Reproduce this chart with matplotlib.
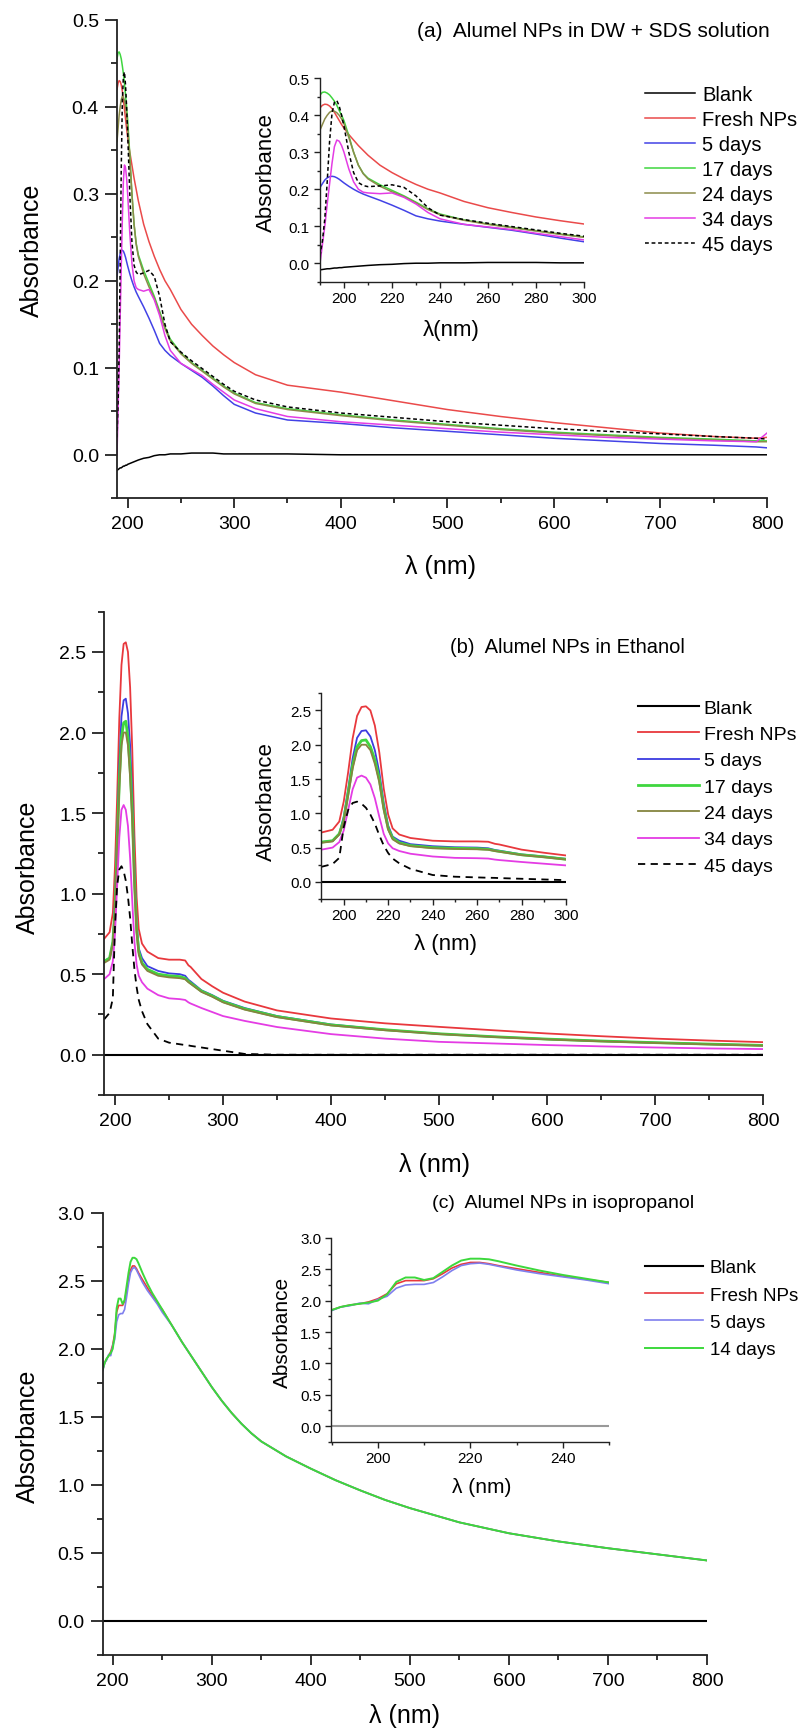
import matplotlib
matplotlib.use('Agg')
import matplotlib.pyplot as plt
from matplotlib.ticker import MultipleLocator

plt.rcParams['font.family'] = ['Liberation Sans', 'DejaVu Sans']

# ---------------- panel (a): DW + SDS ----------------
wl_a = [190, 191, 192, 193, 194, 195, 196, 197, 198, 199, 200, 202, 204, 206, 208, 210,
        215, 220, 225, 230, 235, 240, 250, 260, 270, 280, 290, 300, 320, 350,
        400, 450, 500, 550, 600, 650, 700, 750, 790, 800]
blank_a = [-0.018, -0.017, -0.016, -0.015, -0.015, -0.014, -0.013, -0.013, -0.012, -0.012,
           -0.011, -0.010, -0.009, -0.008, -0.007, -0.006, -0.004, -0.003, -0.001, 0.000,
           0.000, 0.001, 0.001, 0.002, 0.002, 0.002, 0.001, 0.001, 0.001, 0.001,
           0.000, 0.000, 0.000, 0.000, 0.000, 0.000, 0.000, 0.000, 0.000, 0.000]
fresh_a = [0.420, 0.427, 0.430, 0.429, 0.425, 0.418, 0.408, 0.397, 0.386, 0.375,
           0.365, 0.348, 0.333, 0.318, 0.305, 0.292, 0.265, 0.245, 0.228, 0.213,
           0.200, 0.190, 0.167, 0.150, 0.137, 0.125, 0.115, 0.106, 0.092, 0.080,
           0.072, 0.062, 0.052, 0.044, 0.037, 0.031, 0.025, 0.021, 0.019, 0.020]
d5_a = [0.205, 0.215, 0.225, 0.231, 0.234, 0.235, 0.234, 0.231, 0.227, 0.222,
        0.217, 0.208, 0.200, 0.193, 0.187, 0.182, 0.170, 0.157, 0.143, 0.128,
        0.120, 0.114, 0.105, 0.097, 0.089, 0.079, 0.068, 0.058, 0.048, 0.040,
        0.036, 0.031, 0.027, 0.023, 0.019, 0.016, 0.013, 0.011, 0.009, 0.008]
d17_a = [0.455, 0.462, 0.463, 0.460, 0.455, 0.447, 0.438, 0.427, 0.413, 0.400,
         0.385, 0.345, 0.300, 0.265, 0.243, 0.230, 0.212, 0.197, 0.182, 0.165,
         0.147, 0.133, 0.117, 0.106, 0.097, 0.088, 0.079, 0.071, 0.060, 0.053,
         0.046, 0.040, 0.035, 0.030, 0.026, 0.023, 0.020, 0.018, 0.016, 0.016]
d24_a = [0.360, 0.375, 0.390, 0.400, 0.408, 0.412, 0.411, 0.407, 0.400, 0.390,
         0.377, 0.340, 0.300, 0.265, 0.242, 0.228, 0.208, 0.193, 0.180, 0.163,
         0.145, 0.131, 0.116, 0.105, 0.096, 0.087, 0.078, 0.070, 0.059, 0.052,
         0.045, 0.039, 0.034, 0.029, 0.025, 0.022, 0.019, 0.017, 0.015, 0.015]
d34_a = [0.000, 0.050, 0.100, 0.160, 0.215, 0.270, 0.315, 0.333, 0.330, 0.318,
         0.300, 0.255, 0.220, 0.200, 0.192, 0.190, 0.188, 0.190, 0.178, 0.160,
         0.137, 0.120, 0.105, 0.098, 0.091, 0.081, 0.072, 0.063, 0.053, 0.044,
         0.038, 0.034, 0.030, 0.026, 0.023, 0.020, 0.018, 0.016, 0.015, 0.025]
d45_a = [0.020, 0.060, 0.120, 0.220, 0.330, 0.405, 0.435, 0.440, 0.425, 0.400,
         0.370, 0.300, 0.245, 0.218, 0.210, 0.207, 0.209, 0.212, 0.205, 0.182,
         0.150, 0.130, 0.118, 0.108, 0.099, 0.090, 0.081, 0.073, 0.063, 0.055,
         0.048, 0.043, 0.038, 0.034, 0.030, 0.027, 0.024, 0.021, 0.019, 0.018]

# ---------------- panel (b): ethanol ----------------
wl_b = [190, 195, 198, 200, 202, 204, 206, 208, 210, 212, 214, 216, 218, 220, 222, 225,
        230, 240, 250, 260, 265, 268, 270, 280, 290, 300, 320, 350, 400, 450,
        500, 550, 600, 650, 700, 750, 800]
blank_b = [0.0] * len(wl_b)
fresh_b = [0.72, 0.76, 0.88, 1.17, 1.60, 2.09, 2.42, 2.55, 2.56, 2.50, 2.28, 1.89, 1.36,
           0.98, 0.78, 0.69, 0.64, 0.60, 0.59, 0.59, 0.585, 0.555, 0.545, 0.47, 0.425,
           0.385, 0.33, 0.275, 0.225, 0.195, 0.173, 0.152, 0.132, 0.115, 0.100, 0.088, 0.078]
d5_b = [0.58, 0.60, 0.70, 0.95, 1.35, 1.80, 2.10, 2.20, 2.21, 2.12, 1.92, 1.60, 1.15,
        0.82, 0.66, 0.60, 0.55, 0.52, 0.505, 0.50, 0.49, 0.465, 0.455, 0.40, 0.37,
        0.335, 0.29, 0.24, 0.188, 0.155, 0.13, 0.112, 0.097, 0.085, 0.075, 0.066, 0.058]
d17_b = [0.58, 0.60, 0.70, 0.90, 1.30, 1.70, 1.97, 2.06, 2.07, 1.97, 1.78, 1.50, 1.08,
         0.78, 0.64, 0.57, 0.53, 0.50, 0.49, 0.485, 0.475, 0.455, 0.445, 0.395, 0.365,
         0.33, 0.285, 0.237, 0.185, 0.155, 0.13, 0.112, 0.097, 0.085, 0.075, 0.066, 0.058]
d24_b = [0.57, 0.59, 0.69, 0.88, 1.26, 1.65, 1.92, 2.00, 2.00, 1.92, 1.72, 1.45, 1.05,
         0.76, 0.62, 0.56, 0.52, 0.49, 0.48, 0.475, 0.468, 0.45, 0.44, 0.39, 0.36,
         0.325, 0.28, 0.233, 0.182, 0.152, 0.128, 0.11, 0.095, 0.083, 0.073, 0.064, 0.056]
d34_b = [0.47, 0.50, 0.58, 0.75, 1.05, 1.35, 1.52, 1.55, 1.52, 1.42, 1.22, 0.95, 0.70,
         0.56, 0.49, 0.45, 0.41, 0.37, 0.35, 0.345, 0.34, 0.325, 0.318, 0.29, 0.265,
         0.24, 0.21, 0.172, 0.128, 0.10, 0.08, 0.07, 0.06, 0.052, 0.045, 0.039, 0.035]
d45_b = [0.22, 0.26, 0.35, 0.80, 1.05, 1.15, 1.17, 1.14, 1.08, 0.98, 0.85, 0.68, 0.53,
         0.42, 0.34, 0.27, 0.19, 0.10, 0.075, 0.065, 0.06, 0.058, 0.055, 0.045, 0.035,
         0.025, 0.005, 0.0, 0.0, 0.0, 0.0, 0.0, 0.0, 0.0, 0.0, 0.0, 0.0]

# ---------------- panel (c): isopropanol ----------------
wl_c = [190, 192, 194, 196, 198, 200, 202, 204, 206, 208, 210, 212, 214, 216, 218, 220,
        222, 224, 226, 230, 235, 240, 245, 250,
        260, 270, 280, 290, 300, 310, 320, 330, 340, 350, 375, 400, 425, 450, 475, 500,
        550, 600, 650, 700, 750, 800]
tail_c = [2.17, 2.05, 1.94, 1.83, 1.72, 1.62, 1.53, 1.45, 1.38, 1.32, 1.21, 1.12, 1.035,
          0.96, 0.89, 0.83, 0.725, 0.645, 0.585, 0.535, 0.49, 0.445]
blank_c = [0.0] * len(wl_c)
fresh_c = [1.85, 1.90, 1.93, 1.95, 1.98, 2.03, 2.11, 2.27, 2.32, 2.32, 2.32, 2.35, 2.43,
           2.52, 2.58, 2.61, 2.61, 2.59, 2.56, 2.51, 2.45, 2.39, 2.34, 2.29] + tail_c
d5_c = [1.84, 1.90, 1.92, 1.96, 1.95, 2.02, 2.07, 2.20, 2.25, 2.26, 2.26, 2.29, 2.38,
        2.48, 2.56, 2.59, 2.60, 2.58, 2.55, 2.49, 2.43, 2.38, 2.33, 2.27] + tail_c
d14_c = [1.85, 1.90, 1.93, 1.95, 1.97, 2.00, 2.10, 2.30, 2.37, 2.37, 2.33, 2.36, 2.46,
         2.56, 2.64, 2.67, 2.67, 2.66, 2.63, 2.56, 2.48, 2.41, 2.35, 2.29] + tail_c

W, H = 804, 1731
fig = plt.figure(figsize=(W / 100, H / 100), dpi=100)


def box(left, top, right, bottom):
    # axes rectangle given in pixels from the top left corner
    return fig.add_axes([left / W, 1 - bottom / H, (right - left) / W, (bottom - top) / H])


def style(ax, xmaj, xmin, ymaj, ymin, fs, xlen, ylen, lw, xpad, ypad):
    ax.spines['top'].set_visible(False)
    ax.spines['right'].set_visible(False)
    for s in ['left', 'bottom']:
        ax.spines[s].set_linewidth(lw)
        ax.spines[s].set_color('#222222')
    ax.xaxis.set_major_locator(MultipleLocator(xmaj))
    ax.xaxis.set_minor_locator(MultipleLocator(xmin))
    ax.yaxis.set_major_locator(MultipleLocator(ymaj))
    ax.yaxis.set_minor_locator(MultipleLocator(ymin))
    ax.tick_params(which='both', direction='out', width=lw, color='#222222', labelsize=fs)
    ax.tick_params(axis='x', which='major', length=xlen, pad=xpad)
    ax.tick_params(axis='x', which='minor', length=xlen * 0.5)
    ax.tick_params(axis='y', which='major', length=ylen, pad=ypad)
    ax.tick_params(axis='y', which='minor', length=ylen * 0.45)
    ax.set_facecolor('none')


def labels(ax, xl, xpos, ypos, fs):
    ax.set_xlabel(xl, fontsize=fs)
    ax.set_ylabel('Absorbance', fontsize=fs)
    ax.xaxis.set_label_coords(*xpos)
    ax.yaxis.set_label_coords(*ypos)
    ax.xaxis.label.set_va('center')
    ax.yaxis.label.set_va('center')


red, blue, green, olive, mag = '#e8383d', '#3c3ce0', '#3fd63f', '#85853f', '#e43ce4'

# ---- (a) ----
series_a = [(blank_a, 'Blank', 'k', '-'), (fresh_a, 'Fresh NPs', '#ea4a4a', '-'),
            (d5_a, '5 days', '#4242e6', '-'), (d17_a, '17 days', green, '-'),
            (d24_a, '24 days', '#8c8c4a', '-'), (d34_a, '34 days', mag, '-'),
            (d45_a, '45 days', 'k', (0, (2.5, 1.8)))]

ax = box(117, 20.7, 767, 499.3)
ins = box(320, 79.3, 584, 282.7)
for y, lab, c, ls in series_a:
    ax.plot(wl_a, y, color=c, ls=ls, lw=1.1, label=lab)
    ins.plot(wl_a, y, color=c, ls=ls, lw=1.1)
ax.set_xlim(190, 800)
ax.set_ylim(-0.05, 0.5)
ins.set_xlim(190, 300)
ins.set_ylim(-0.05, 0.5)
style(ax, 100, 50, 0.1, 0.05, 14, 7, 9, 1.3, 5, 4)
style(ins, 20, 10, 0.1, 0.05, 11, 4.5, 4.5, 1.0, 2, 3)
labels(ax, 'λ (nm)', (0.498, -0.141), (-0.131, 0.521), 18)
labels(ins, 'λ(nm)', (0.496, -0.233), (-0.202, 0.542), 16)
fig.text(416.7 / W, 1 - 31.7 / H, '(a)  Alumel NPs in DW + SDS solution', fontsize=15, va='center')
ax.legend(loc='upper left', bbox_to_anchor=(645 / W, 1 - 86 / H), bbox_transform=fig.transFigure,
          frameon=False, fontsize=14.5, handlelength=2.5, handletextpad=0.33,
          labelspacing=0.3, borderpad=0, borderaxespad=0)

# ---- (b) ----
series_b = [(blank_b, 'Blank', 'k', '-', 1.5), (fresh_b, 'Fresh NPs', red, '-', 1.3),
            (d5_b, '5 days', blue, '-', 1.3), (d17_b, '17 days', green, '-', 2.0),
            (d24_b, '24 days', olive, '-', 1.3), (d34_b, '34 days', mag, '-', 1.3),
            (d45_b, '45 days', 'k', (0, (4, 3)), 1.3)]

ax = box(104.2, 612.7, 763, 1096)
ins = box(321.5, 694.3, 566, 900)
for y, lab, c, ls, w in series_b:
    ax.plot(wl_b, y, color=c, ls=ls, lw=w, label=lab)
    ins.plot(wl_b, y, color=c, ls=ls, lw=w)
ax.set_xlim(190, 800)
ax.set_ylim(-0.25, 2.75)
ins.set_xlim(190, 300)
ins.set_ylim(-0.25, 2.75)
style(ax, 100, 50, 0.5, 0.25, 14, 7, 9, 1.3, 5, 4)
style(ins, 20, 10, 0.5, 0.25, 11, 4.5, 4.5, 1.0, 2, 3)
labels(ax, 'λ (nm)', (0.502, -0.142), (-0.116, 0.474), 18)
labels(ins, 'λ (nm)', (0.509, -0.214), (-0.224, 0.478), 16)
fig.text(450 / W, 1 - 648 / H, '(b)  Alumel NPs in Ethanol', fontsize=14.5, va='center')
ax.legend(loc='upper left', bbox_to_anchor=(638.5 / W, 1 - 700 / H), bbox_transform=fig.transFigure,
          frameon=False, fontsize=14, handlelength=3.1, handletextpad=0.25,
          labelspacing=0.45, borderpad=0, borderaxespad=0)

# ---- (c) ----
series_c = [(blank_c, 'Blank', 'k', 1.5), (fresh_c, 'Fresh NPs', red, 1.2),
            (d5_c, '5 days', '#7f7fee', 1.2), (d14_c, '14 days', '#3cd83c', 1.4)]

ax = box(102.8, 1213.9, 707, 1656)
ins = box(331.5, 1239, 609.3, 1442.7)
for y, lab, c, w in series_c:
    ax.plot(wl_c, y, color=c, lw=w, label=lab)
    ins.plot(wl_c, y, color=('#999999' if lab == 'Blank' else c), lw=w)
ax.set_xlim(190, 800)
ax.set_ylim(-0.25, 3.0)
ins.set_xlim(190, 250)
ins.set_ylim(-0.25, 3.0)
style(ax, 100, 50, 0.5, 0.25, 14, 7, 9, 1.3, 5, 4)
style(ins, 20, 10, 0.5, 0.25, 11, 4.5, 4.5, 1.0, 2, 3)
labels(ax, 'λ (nm)', (0.5, -0.136), (-0.124, 0.498), 18)
labels(ins, 'λ (nm)', (0.54, -0.222), (-0.175, 0.539), 15)
fig.text(431.7 / W, 1 - 1203.3 / H, '(c)  Alumel NPs in isopropanol', fontsize=14, va='center')
ax.legend(loc='upper left', bbox_to_anchor=(645 / W, 1 - 1260 / H), bbox_transform=fig.transFigure,
          frameon=False, fontsize=13.5, handlelength=3.1, handletextpad=0.35,
          labelspacing=0.55, borderpad=0, borderaxespad=0)

fig.savefig('out.png', dpi=100)
